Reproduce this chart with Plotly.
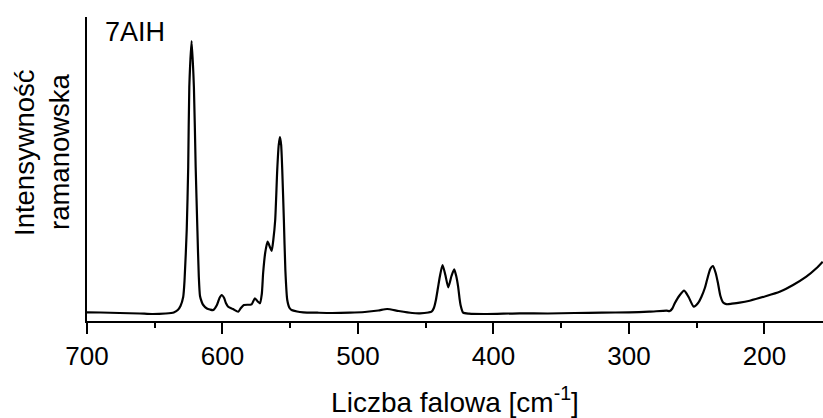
import plotly.graph_objects as go

# Raman spectrum of 7AIH (arbitrary intensity units)
wavenumber = [
    700, 690, 676, 661, 652, 642, 636, 633, 631, 629, 628, 626.4, 625.3, 624.5,
    622.8, 621.1, 619.8, 618.5, 617.5, 616.6, 615.3, 614.2, 611.5, 609.3, 606.8,
    604.1, 602.2, 600.6, 598.8, 597.5, 595.8, 592.3, 588.4, 586.4, 584.2, 578.5,
    576.1, 574, 572.4, 571, 570, 568.5, 566.7, 565, 563.7, 562.5, 561.1, 559.6,
    558.5, 557.6, 556.7, 555.9, 554.7, 553.6, 552.2, 550.5, 549, 545, 540.4, 530,
    520, 506, 495, 485, 478.5, 470, 460, 454.3, 448, 445.7, 444, 442.5, 441,
    439.6, 437.6, 435.5, 433.4, 431, 429, 427.5, 426.1, 425, 424.3, 422.4, 418,
    405.1, 380.6, 360, 340, 320, 300, 285, 272.3, 269.9, 268, 266.2, 263, 259.3,
    256, 252.2, 249, 246.5, 244, 242.4, 240, 238, 236, 234.3, 232.5, 230.5,
    228.1, 224, 218.3, 210.9, 198.6, 188.8, 178.9, 169.1, 161.7, 157,
]
intensity = [
    8.7, 8.5, 8.0, 7.5, 7.0, 7.5, 8.5, 11, 15, 24, 41, 91, 154, 234,
    280, 234, 154, 90, 45, 25, 19, 16, 12.5, 11.5, 11,
    16, 23, 26, 23, 18, 14.3, 12, 9.3, 13, 16, 16.7,
    22.7, 19.5, 17.7, 27, 48, 68, 79.3, 74, 70, 81, 101, 151,
    176, 184, 176, 151, 101, 51, 21, 13, 11, 9.5, 8.7, 8.3,
    8.0, 8.3, 9.0, 10.5, 12, 10, 8, 7.7, 8.5, 9.3, 13, 21, 33,
    44.3, 56, 46, 33.7, 45, 51.7, 45, 34.3, 22, 16, 8.3, 7.3,
    7, 7.7, 7.5, 8, 8.3, 8.7, 9.3, 10.3, 10, 12.5, 17.7, 25, 30.3,
    24, 14.3, 18, 24.3, 33, 41, 52, 55, 48, 37.7, 25, 18.5,
    16.8, 17.3, 18.3, 20.3, 25, 29.3, 36, 44.3, 52.7, 59.3,
]

x_ticks = [700, 600, 500, 400, 300, 200]
x_tick_labels = ["700", "600", "500", "400", "300", "200"]
x_minor_ticks = [650, 550, 450, 350, 250]
sample_label = "7AIH"
x_title = "Liczba falowa [cm<sup>-1</sup>]"
y_title_lines = ["Intensywność", "ramanowska"]

FONT = "Liberation Sans, Arial, sans-serif"
PLOT_L, PLOT_R, PLOT_T, PLOT_B = 87, 823, 17, 321

fig = go.Figure()
fig.add_trace(go.Scatter(
    x=wavenumber, y=intensity, mode="lines",
    line=dict(color="black", width=2.2, shape="spline", smoothing=0.6),
    hoverinfo="skip", showlegend=False,
))


def px_x(p):
    return (p - PLOT_L) / (PLOT_R - PLOT_L)


def px_y(p):
    return (PLOT_B - p) / (PLOT_B - PLOT_T)


annotations = [dict(
    text=sample_label, xref="paper", yref="paper",
    x=px_x(103), y=px_y(31.7),
    xanchor="left", yanchor="middle", showarrow=False,
    font=dict(family=FONT, size=27, color="black"),
)]
for line_text, cx in zip(y_title_lines, [24, 59]):
    annotations.append(dict(
        text=line_text, xref="paper", yref="paper",
        x=px_x(cx), y=px_y(152), textangle=-90,
        xanchor="center", yanchor="middle", showarrow=False,
        font=dict(family=FONT, size=27.5, color="black"),
    ))

fig.update_layout(
    width=823, height=418,
    margin=dict(l=PLOT_L, r=823 - PLOT_R, t=PLOT_T, b=418 - PLOT_B),
    paper_bgcolor="white", plot_bgcolor="white",
    font=dict(family=FONT, size=26, color="black"),
    xaxis=dict(
        range=[700, 156.8], showgrid=False, zeroline=False,
        showline=True, linecolor="black", linewidth=2,
        ticks="outside", ticklen=11, tickwidth=2, tickcolor="black",
        tickvals=x_ticks, ticktext=x_tick_labels,
        tickfont=dict(family=FONT, size=26, color="black"),
        minor=dict(tickvals=x_minor_ticks, ticks="outside",
                   ticklen=5, tickwidth=2, tickcolor="black"),
        title=dict(text=x_title, font=dict(family=FONT, size=28, color="black"),
                   standoff=22),
        automargin=False,
    ),
    yaxis=dict(
        range=[0, 304], showgrid=False, zeroline=False,
        showline=True, linecolor="black", linewidth=2,
        ticks="", showticklabels=False,
        automargin=False,
    ),
    annotations=annotations,
)

fig.write_html(
    "out.html",
    config={"displayModeBar": False},
    post_script="document.body.style.margin='0px';document.body.style.overflow='hidden';",
)
